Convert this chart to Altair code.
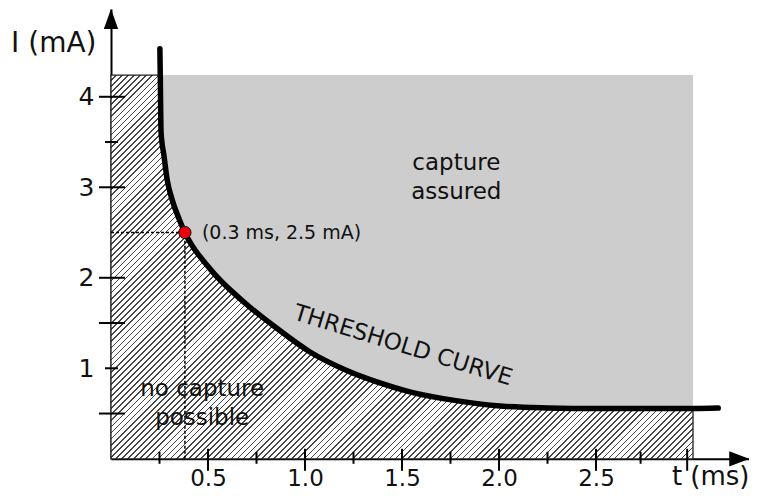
import math
import altair as alt
import pandas as pd

# ---------------- data ----------------
curve_t = [0.252, 0.254, 0.258, 0.273, 0.289, 0.314, 0.351, 0.381, 0.51, 0.686,
           0.856, 1.026, 1.20, 1.37, 1.54, 1.77, 1.99, 2.25, 2.51, 3.0, 3.13]
curve_i = [4.53, 4.23, 3.61, 3.35, 3.09, 2.87, 2.65, 2.50, 2.10, 1.73,
           1.44, 1.18, 0.99, 0.85, 0.74, 0.645, 0.585, 0.562, 0.555, 0.555, 0.56]

region_t = [0.0, 3.0]        # shaded region, ms
region_i = [0.0, 4.24]       # shaded region, mA

axis_t_max = 3.29            # end of t axis (arrow tip)
axis_i_max = 4.97            # end of I axis (arrow tip)

dot_t = [0.381]
dot_i = [2.5]
dot_label = ["(0.3 ms, 2.5 mA)"]

x_label_values = [0.5, 1.0, 1.5, 2.0, 2.5]
x_major_ticks = [0.5, 1.0, 1.5, 2.0, 2.5, 2.97]
x_minor_ticks = [0.25, 0.75, 1.25, 1.75, 2.25, 2.73]
y_label_values = [1, 2, 3, 4]
y_long_ticks = [0.5, 1.5, 2.0, 3.0, 4.0]
y_short_ticks = [1.0, 3.5]

region_texts = ["capture\nassured", "no capture\npossible"]
region_text_t = [1.78, 0.47]
region_text_i = [3.27, 0.77]

curve_title = ["THRESHOLD CURVE"]
curve_title_t = [1.505]
curve_title_i = [1.25]

# ---------------- layout / style ----------------
PX_T = 194.0   # px per ms
PX_I = 90.5    # px per mA
W = axis_t_max * PX_T
H = axis_i_max * PX_I
FONT = "DejaVu Sans"
GRAY = "#cdcdcd"

xscale = alt.Scale(domain=[0, axis_t_max], nice=False, zero=False)
yscale = alt.Scale(domain=[0, axis_i_max], nice=False, zero=False)

xaxis = alt.Axis(values=x_label_values, format=".1f", ticks=False, grid=False,
                 domainColor="black", domainWidth=2, labelFont=FONT, labelFontSize=23,
                 labelColor="#111", labelPadding=9, labelFlush=False,
                 title="t (ms)", titleFont=FONT, titleFontSize=26, titleFontWeight="normal",
                 titleColor="#111", titleAlign="right", titleBaseline="alphabetic",
                 titleX=638, titleY=26, titleAnchor="end")
yaxis = alt.Axis(values=y_label_values, ticks=False, grid=False,
                 domainColor="black", domainWidth=2, labelFont=FONT, labelFontSize=25,
                 labelColor="#111", labelPadding=17, labelFlush=False,
                 title="I (mA)", titleFont=FONT, titleFontSize=28, titleFontWeight="normal",
                 titleColor="#111", titleAngle=0, titleAlign="right", titleBaseline="alphabetic",
                 titleX=-15, titleY=42)

X = lambda f="t": alt.X(f"{f}:Q", scale=xscale, axis=xaxis)
Y = lambda f="I": alt.Y(f"{f}:Q", scale=yscale, axis=yaxis)

# ---------------- hatch pattern as a striped gradient ----------------
bw = (region_t[1] - region_t[0]) * PX_T
bh = (region_i[1] - region_i[0]) * PX_I
k = (bw + bh) / (bw * bw + bh * bh)
gx2, gy2 = k * bw, k * bh
L = (bw + bh) / math.sqrt(2)
period, dark_w = 4.3, 1.2
n = int(math.ceil(L / period))
stops = []
for j in range(n):
    a = min(1.0, j * period / L)
    b = min(1.0, (j * period + period - dark_w) / L)
    c = min(1.0, (j + 1) * period / L)
    stops += [alt.GradientStop(offset=a, color="white"),
              alt.GradientStop(offset=b, color="white"),
              alt.GradientStop(offset=b, color="#474747"),
              alt.GradientStop(offset=c, color="#474747")]
hatch = alt.LinearGradient(gradient="linear", stops=stops, x1=0, y1=0, x2=gx2, y2=gy2)

# ---------------- tables ----------------
curve_df = pd.DataFrame({"t": curve_t, "I": curve_i})
hatch_rows = [(region_t[0], region_i[1])] + [
    (t, min(i, region_i[1])) for t, i in zip(curve_t, curve_i) if t <= region_t[1]]
hatch_df = pd.DataFrame(hatch_rows, columns=["t", "I"])
region_df = pd.DataFrame({"t": [region_t[0]], "t2": [region_t[1]],
                          "I": [region_i[0]], "I2": [region_i[1]]})
dot_df = pd.DataFrame({"t": dot_t, "I": dot_i, "label": dot_label})
hguide_df = pd.DataFrame({"t": [0.0], "t2": dot_t, "I": dot_i})
vguide_df = pd.DataFrame({"t": dot_t, "I": [0.0], "I2": dot_i})
xmaj_df = pd.DataFrame({"t": x_major_ticks})
xmin_df = pd.DataFrame({"t": x_minor_ticks})
ylong_df = pd.DataFrame({"I": y_long_ticks})
yshort_df = pd.DataFrame({"I": y_short_ticks})
rtext_df = pd.DataFrame({"t": region_text_t, "I": region_text_i, "label": region_texts})
ctext_df = pd.DataFrame({"t": curve_title_t, "I": curve_title_i, "label": curve_title})
xarrow_df = pd.DataFrame({"t": [axis_t_max], "I": [0.0]})
yarrow_df = pd.DataFrame({"t": [0.0], "I": [axis_i_max]})

# ---------------- layers ----------------
gray = alt.Chart(region_df).mark_rect(fill=GRAY).encode(
    x=X(), x2="t2:Q", y=Y(), y2="I2:Q")

hatched = alt.Chart(hatch_df).mark_area(
    interpolate="monotone", fill=hatch, stroke="#222", strokeWidth=1.3).encode(
    x=X(), y=Y())

hguide = alt.Chart(hguide_df).mark_rule(color="black", strokeWidth=1.5, strokeDash=[3, 2]).encode(
    x=X(), x2="t2:Q", y=Y())
vguide = alt.Chart(vguide_df).mark_rule(color="black", strokeWidth=1.5, strokeDash=[3, 2]).encode(
    x=X(), y=Y(), y2="I2:Q")

curve = alt.Chart(curve_df).mark_line(
    interpolate="monotone", color="black", strokeWidth=5.5, strokeCap="round").encode(
    x=X(), y=Y())

dot = alt.Chart(dot_df).mark_point(
    shape="circle", filled=True, fill="#e8000b", stroke="#111", strokeWidth=1,
    size=150, opacity=1).encode(x=X(), y=Y())
dot_text = alt.Chart(dot_df).mark_text(
    align="left", baseline="middle", dx=17, font=FONT, fontSize=19, color="#111").encode(
    x=X(), y=Y(), text="label:N")

region_text = alt.Chart(rtext_df).mark_text(
    align="center", baseline="middle", font=FONT, fontSize=23, color="#111",
    lineBreak="\n", lineHeight=29).encode(x=X(), y=Y(), text="label:N")

curve_text = alt.Chart(ctext_df).mark_text(
    align="center", baseline="middle", font=FONT, fontSize=23, color="#111",
    angle=17).encode(x=X(), y=Y(), text="label:N")

xmaj = alt.Chart(xmaj_df).mark_rule(color="black", strokeWidth=2).encode(
    x=X(), y=alt.value(H - 10), y2=alt.value(H + 12))
xmin = alt.Chart(xmin_df).mark_rule(color="black", strokeWidth=2).encode(
    x=X(), y=alt.value(H - 7), y2=alt.value(H + 5))
ylong = alt.Chart(ylong_df).mark_rule(color="black", strokeWidth=2).encode(
    y=Y(), x=alt.value(-12), x2=alt.value(14))
yshort = alt.Chart(yshort_df).mark_rule(color="black", strokeWidth=2).encode(
    y=Y(), x=alt.value(-6), x2=alt.value(7))

xarrow = alt.Chart(xarrow_df).mark_point(
    shape="M0,0 L-1,-0.38 L-1,0.38 Z", filled=True, fill="black",
    size=1600, opacity=1).encode(x=X(), y=Y())
yarrow = alt.Chart(yarrow_df).mark_point(
    shape="M0,0 L-0.36,1 L0.36,1 Z", filled=True, fill="black",
    size=1600, opacity=1).encode(x=X(), y=Y())

chart = alt.layer(
    gray, hatched, hguide, vguide, curve, dot, dot_text, region_text, curve_text,
    xmaj, xmin, ylong, yshort, xarrow, yarrow
).properties(
    width=W, height=H,
    autosize=alt.AutoSizeParams(type="none"),
    padding={"left": 103, "top": 1, "right": 0, "bottom": 32},
    background="white",
).configure_view(stroke=None)

chart.save("out.html", embed_options={"renderer": "svg", "actions": False})
